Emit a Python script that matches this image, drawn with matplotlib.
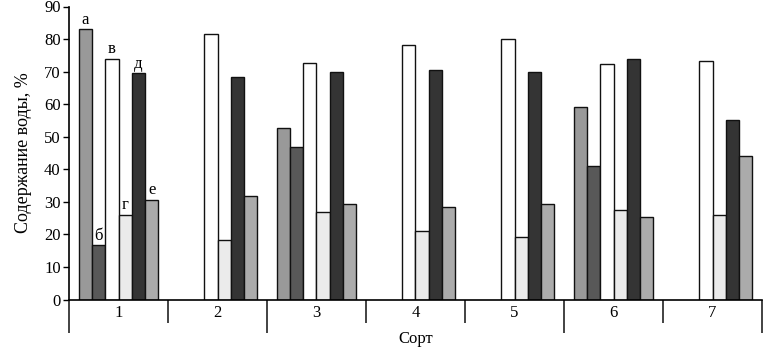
import numpy as np
import matplotlib
matplotlib.use("Agg")
import matplotlib.pyplot as plt

plt.rcParams['font.family'] = ['Liberation Serif', 'DejaVu Serif']

groups = ['1', '2', '3', '4', '5', '6', '7']
series_names = ['а', 'б', 'в', 'г', 'д', 'е']
nan = np.nan
s_a = [83.0, nan, 52.6, nan, nan, 59.0, nan]
s_b = [16.7, nan, 46.9, nan, nan, 40.9, nan]
s_v = [74.0, 81.7, 72.5, 78.2, 80.1, 72.2, 73.2]
s_g = [26.0, 18.4, 26.9, 21.1, 19.2, 27.4, 25.9]
s_d = [69.5, 68.2, 70.0, 70.6, 70.0, 73.9, 55.2]
s_e = [30.6, 31.7, 29.2, 28.4, 29.2, 25.3, 44.1]
series = [s_a, s_b, s_v, s_g, s_d, s_e]
colors = ['#999999', '#585858', '#ffffff', '#ebebeb', '#343434', '#ababab']

fig = plt.figure(figsize=(7.68, 3.52), dpi=100)
ax = fig.add_axes([69/768, 52.5/352, 693/768, 293/352])

bw = 0.134
start = 0.098
x = np.arange(len(groups))
for k, (vals, c) in enumerate(zip(series, colors)):
    v = np.array(vals, dtype=float)
    m = ~np.isnan(v)
    xs = x[m] + start + bw * (k + 0.5)
    ax.bar(xs, v[m], width=bw, color=c, edgecolor='#111111', linewidth=1.0)
    if m[0]:
        ax.text(x[0] + start + bw * (k + 0.5), v[0] + 0.5, series_names[k],
                ha='center', va='bottom', fontsize=12)

ax.set_xlim(0, len(groups))
ax.set_ylim(0, 90)
ax.set_yticks(np.arange(0, 91, 10))
ax.tick_params(axis='y', direction='out', length=4, width=1, labelsize=12, pad=2)
ax.set_xticks(x + 0.5)
ax.set_xticklabels(groups, fontsize=12)
ax.tick_params(axis='x', length=0, pad=4)
ax.spines['top'].set_visible(False)
ax.spines['right'].set_visible(False)
ax.spines['left'].set_linewidth(1.2)
ax.spines['bottom'].set_linewidth(1.2)

trans = ax.get_xaxis_transform()
long_idx = {0, 2, 5, 7}
for i in range(len(groups) + 1):
    yb = -33.5/293 if i in long_idx else -23.5/293
    ax.plot([i, i], [0, yb], transform=trans, color='#222222', lw=1.2,
            clip_on=False, solid_capstyle='butt')

ax.set_ylabel('Содержание воды, %', fontsize=13, labelpad=9)
ax.set_xlabel('Сорт', fontsize=12, labelpad=7)

fig.savefig('out.png', dpi=100)
